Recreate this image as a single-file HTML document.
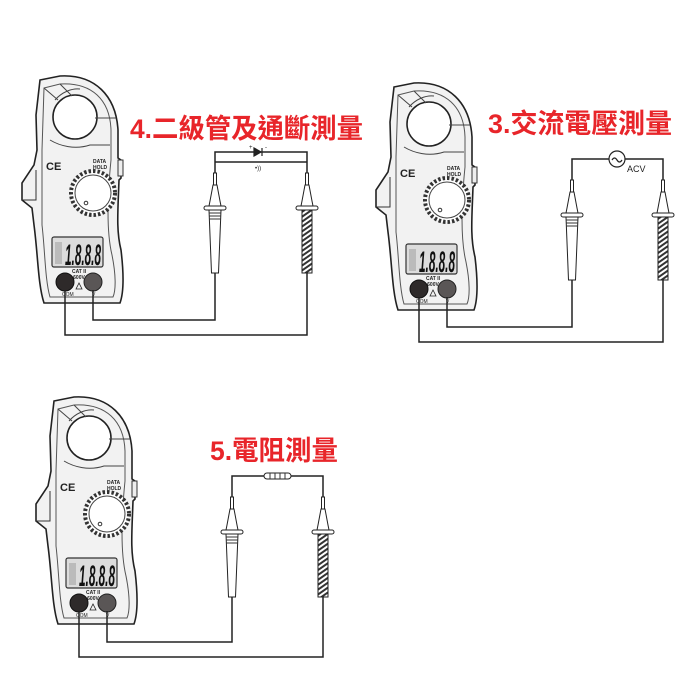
<!DOCTYPE html>
<html><head><meta charset="utf-8"><style>
html,body{margin:0;padding:0;background:#fff;}
svg{display:block;}
.t{font-family:"Liberation Sans","Noto Sans CJK TC",sans-serif;fill:#e8252a;font-weight:bold;}
</style></head><body>
<svg width="700" height="700" viewBox="0 0 700 700" xmlns="http://www.w3.org/2000/svg">
<defs>
<pattern id="hat" width="4" height="4" patternUnits="userSpaceOnUse" patternTransform="rotate(-35)">
<rect width="4" height="4" fill="#fff"/><rect width="4" height="2" fill="#333"/>
</pattern>
<g id="meter">
<path d="M40,80 L60,76 C95,74 116,96 118,130 L118,158 L121,160 L121,178 L119,180 C118,210 116,230 121,250 C124,275 124,292 120,303 L44,303 C38,285 38,255 34,225 L32,208 L22,200 L22,183 L34,165 L37,150 L36,115 Z" fill="#f2f2f2" stroke="#222" stroke-width="1.6"/>
<path d="M44,88 L60,84 C92,82 110,100 111,130 L111,160 C108,190 106,230 112,255 C116,275 116,290 113,297 L50,297 C45,280 45,250 42,225 L42,150 Z" fill="none" stroke="#555" stroke-width="1"/>
<path d="M22,200 L36,200 L36,170" fill="none" stroke="#333" stroke-width="1"/>
<circle cx="75" cy="117" r="22" fill="#fff" stroke="#222" stroke-width="1.6"/>
<path d="M55,100 C62,92 72,88 80,89 M50,140 C60,146 75,150 90,145 L110,145 M95,118 L116,118" fill="none" stroke="#444" stroke-width="1"/>
<path d="M44,88 L58,100 M60,84 L72,96" stroke="#444" stroke-width="1"/>
<rect x="118" y="160" width="5" height="16" fill="#eee" stroke="#333" stroke-width="1"/>
<text x="46" y="170" font-family="Liberation Sans,sans-serif" font-size="11" font-weight="bold" fill="#222">CE</text>
<text x="93" y="163" font-family="Liberation Sans,sans-serif" font-size="5" font-weight="bold" fill="#222">DATA</text>
<text x="93" y="169" font-family="Liberation Sans,sans-serif" font-size="5" font-weight="bold" fill="#222">HOLD</text>
<circle cx="93" cy="193" r="22" fill="#fff" stroke="#333" stroke-width="4" stroke-dasharray="2.5 2"/>
<circle cx="93" cy="193" r="18" fill="#fff" stroke="#444" stroke-width="1"/>
<circle cx="86" cy="203" r="1.8" fill="none" stroke="#333"/>
<rect x="52" y="237" width="51" height="30" rx="2" fill="#dcdcdc" stroke="#333" stroke-width="1.2"/>
<text x="65" y="265" font-family="Liberation Sans,sans-serif" font-size="30" font-weight="bold" font-style="italic" fill="#111" textLength="36" lengthAdjust="spacingAndGlyphs">1.8.8.8</text>
<rect x="55" y="242" width="7" height="22" fill="#bbb"/>
<circle cx="65" cy="282" r="9" fill="#2e2a2a" stroke="#111"/>
<circle cx="93" cy="282" r="9" fill="#5a5656" stroke="#222"/>
<text x="79" y="273" font-family="Liberation Sans,sans-serif" font-size="5" font-weight="bold" fill="#222" text-anchor="middle">CAT II</text>
<text x="79" y="279" font-family="Liberation Sans,sans-serif" font-size="5" font-weight="bold" fill="#222" text-anchor="middle">600V</text>
<path d="M76,289 L79,283 L82,289 Z" fill="none" stroke="#222" stroke-width=".8"/>
<text x="62" y="296" font-family="Liberation Sans,sans-serif" font-size="5" fill="#222">COM</text>
<text x="92" y="296" font-family="Liberation Sans,sans-serif" font-size="5" fill="#222">V</text>
</g>
<g id="probe">
<rect x="-1.5" y="0" width="3" height="12" fill="#fff" stroke="#222" stroke-width="1"/>
<path d="M-2,12 L2,12 L5,28 L6,33 L-6,33 L-5,28 Z" fill="#fff" stroke="#222" stroke-width="1"/>
<rect x="-11" y="33" width="22" height="4" rx="2" fill="#fff" stroke="#222" stroke-width="1"/>
<path d="M-6,37 L6,37 L3.5,100 L-3.5,100 Z" fill="#fff" stroke="#222" stroke-width="1"/>
<path d="M-6,40 H6 M-6,43 H6 M-6,46 H6" stroke="#333" stroke-width="1"/>
</g>
<g id="probeH">
<rect x="-1.5" y="0" width="3" height="12" fill="#fff" stroke="#222" stroke-width="1"/>
<path d="M-2,12 L2,12 L5,28 L6,33 L-6,33 L-5,28 Z" fill="#fff" stroke="#222" stroke-width="1"/>
<rect x="-11" y="33" width="22" height="4" rx="2" fill="#fff" stroke="#222" stroke-width="1"/>
<rect x="-5" y="37" width="10" height="63" fill="url(#hat)" stroke="#222" stroke-width="1"/>
</g>
</defs>

<!-- Meter 1 -->
<use href="#meter"/>
<g fill="none" stroke="#222" stroke-width="1.5">
<path d="M93,290 V320 H215 V273"/>
<path d="M65,290 V335 H307 V273"/>
<path d="M215,174 V152 H307 V174 M215,162 H307"/>
</g>
<use href="#probe" x="215" y="173"/>
<use href="#probeH" x="307" y="173"/>
<path d="M254,148 L254,156 L261,152 Z M262,148 V156" fill="#222" stroke="#222" stroke-width="1.2"/>
<text x="249" y="149" font-size="6" font-family="Liberation Sans,sans-serif" fill="#222">+</text>
<text x="265" y="149" font-size="6" font-family="Liberation Sans,sans-serif" fill="#222">-</text>
<text x="255" y="170" font-size="6" font-family="Liberation Sans,sans-serif" fill="#222">•))</text>
<text class="t" x="130" y="138" font-size="27" textLength="233" lengthAdjust="spacingAndGlyphs">4.二級管及通斷測量</text>

<!-- Meter 2 -->
<use href="#meter" transform="translate(354,7)"/>
<g fill="none" stroke="#222" stroke-width="1.5">
<path d="M447,297 V327 H572 V280"/>
<path d="M419,297 V342 H663 V280"/>
<path d="M572,181 V159 H609 M625,159 H663 V181"/>
</g>
<circle cx="617" cy="159" r="8" fill="#fff" stroke="#222" stroke-width="1.2"/>
<path d="M612,160 q2.5,-4 5,0 t5,0" fill="none" stroke="#222" stroke-width="1.2"/>
<text x="627" y="172" font-size="9" font-family="Liberation Sans,sans-serif" fill="#222">ACV</text>
<use href="#probe" x="572" y="180"/>
<use href="#probeH" x="663" y="180"/>
<text class="t" x="488" y="133" font-size="27" textLength="184" lengthAdjust="spacingAndGlyphs">3.交流電壓測量</text>

<!-- Meter 3 -->
<use href="#meter" transform="translate(14,321)"/>
<g fill="none" stroke="#222" stroke-width="1.5">
<path d="M107,611 V642 H232 V595"/>
<path d="M79,611 V657 H323 V595"/>
<path d="M232,498 V476 H265 M290,476 H323 V498"/>
</g>
<rect x="264" y="473" width="27" height="6" rx="3" fill="#fff" stroke="#222" stroke-width="1"/>
<path d="M270,473 V479 M275,473 V479 M280,473 V479 M285,473 V479" stroke="#333" stroke-width="1"/>
<use href="#probe" x="232" y="497"/>
<use href="#probeH" x="323" y="497"/>
<text class="t" x="210" y="460" font-size="27" textLength="128" lengthAdjust="spacingAndGlyphs">5.電阻測量</text>
</svg>
</body></html>
